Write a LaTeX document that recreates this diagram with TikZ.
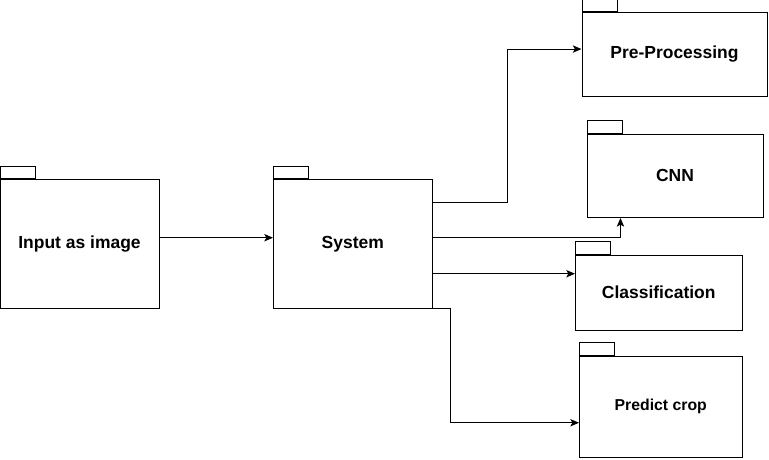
\documentclass[tikz,border=0pt]{standalone}
\usepackage{fontspec}
\setmainfont{Liberation Sans}
\usetikzlibrary{arrows.meta}

\begin{document}
\begin{tikzpicture}[x=0.75pt, y=-0.75pt, line width=0.75pt,
  every node/.style = {shape=rectangle, inner sep=0pt,
    font=\fontsize{13.1}{15}\selectfont\bfseries},
  pkg/.style = {draw, align=center},
  tab/.style = {draw, anchor=south west,
    minimum width=26.6pt, minimum height=9.4pt},
  link/.style = {-{Stealth[length=6.5pt, width=5.5pt, inset=1.5pt]}}]
  \useasboundingbox (0,0) rectangle (769,460);

  % packages
  \node[pkg, minimum width=119.25pt, minimum height=96pt] (inp) at (79.5,244) {Input as image};
  \node[pkg, minimum width=118.9pt, minimum height=96pt] (sys) at (352.75,244) {System};
  \node[pkg, minimum width=138.75pt, minimum height=63pt] (pre) at (674.5,54.5) {Pre-Processing};
  \node[pkg, minimum width=132pt, minimum height=62.6pt] (cnn) at (675,175.75) {CNN};
  \node[pkg, minimum width=124.9pt, minimum height=55.9pt] (cls) at (658.75,292.75) {Classification};
  \node[pkg, minimum width=121.9pt, minimum height=76.1pt,
    font=\fontsize{11.85}{14}\selectfont\bfseries] (pred) at (660.75,406.75) {Predict crop};

  % tabs
  \foreach \n in {inp,sys,pre,cnn,cls,pred}
    \node[tab] (\n-tab) at (\n.north west) {};

  % connectors
  \draw[link] ([yshift=4.7pt]inp.east) -- ([yshift=4.7pt]sys.west);
  \draw[link] ([yshift=30.75pt]sys.east) -- ++(74.7,0) |- ([yshift=4.1pt]pre.west);
  \draw[link] ([yshift=4.7pt]sys.east) -| ([xshift=-40.9pt]cnn.south);
  \coordinate (c-cls) at ([yshift=-22.3pt]sys.east);
  \draw[link] (c-cls) -- (c-cls -| cls.west);
  \draw[link] (sys.south east) -- ++(18,0) |- ([yshift=-12pt]pred.west);
\end{tikzpicture}
\end{document}
